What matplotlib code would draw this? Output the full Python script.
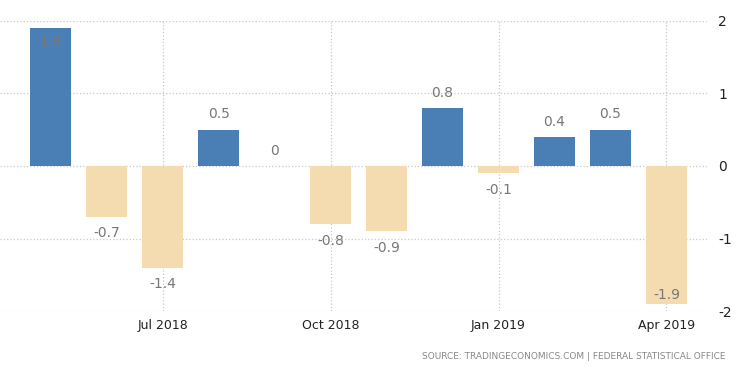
import matplotlib
matplotlib.use("Agg")
import matplotlib.pyplot as plt
import numpy as np

plt.rcParams["axes.unicode_minus"] = False

months = ["May 2018", "Jun 2018", "Jul 2018", "Aug 2018", "Sep 2018", "Oct 2018",
          "Nov 2018", "Dec 2018", "Jan 2019", "Feb 2019", "Mar 2019", "Apr 2019"]
values = [1.9, -0.7, -1.4, 0.5, 0.0, -0.8, -0.9, 0.8, -0.1, 0.4, 0.5, -1.9]
tick_months = ["Jul 2018", "Oct 2018", "Jan 2019", "Apr 2019"]
y_ticks = [-2, -1, 0, 1, 2]

BLUE = "#4a7fb5"
WHEAT = "#f5dcb0"

fig = plt.figure(figsize=(7.5, 3.73), dpi=100)
ax = fig.add_axes([0.0, 0.166, 0.943, 0.778])

x = np.arange(len(months))
cols = [BLUE if v > 0 else WHEAT for v in values]
ax.bar(x, values, width=0.73, color=cols, zorder=2)

for xi, v in zip(x, values):
    lab = f"{v:g}"
    # labels of the tallest bars sit inside the bar end
    if v >= 1.7:
        dy = -9
    elif v <= -1.7:
        dy = 6
    elif v >= 0:
        dy = 11
    else:
        dy = -12
    ax.annotate(lab, (xi, v), xytext=(0, dy), textcoords="offset points",
                ha="center", va="center", fontsize=10, color="#777777", zorder=3)

ax.set_xlim(-0.91, 11.73)
ax.set_ylim(-2, 2)
ax.set_xticks([months.index(m) for m in tick_months])
ax.set_xticklabels(tick_months)
ax.set_yticks(y_ticks)
ax.yaxis.tick_right()
ax.tick_params(axis="both", length=0, labelcolor="#222222")
ax.tick_params(axis="x", pad=6, labelsize=9)
ax.tick_params(axis="y", pad=8, labelsize=10)
ax.grid(True, ls=":", color="#c8c8c8", lw=0.9, zorder=0)
for s in ax.spines.values():
    s.set_visible(False)

fig.text(0.968, 0.045, "SOURCE: TRADINGECONOMICS.COM | FEDERAL STATISTICAL OFFICE",
         ha="right", va="center", fontsize=6.5, color="#888888")

plt.savefig("out.png", dpi=100)
plt.close()
